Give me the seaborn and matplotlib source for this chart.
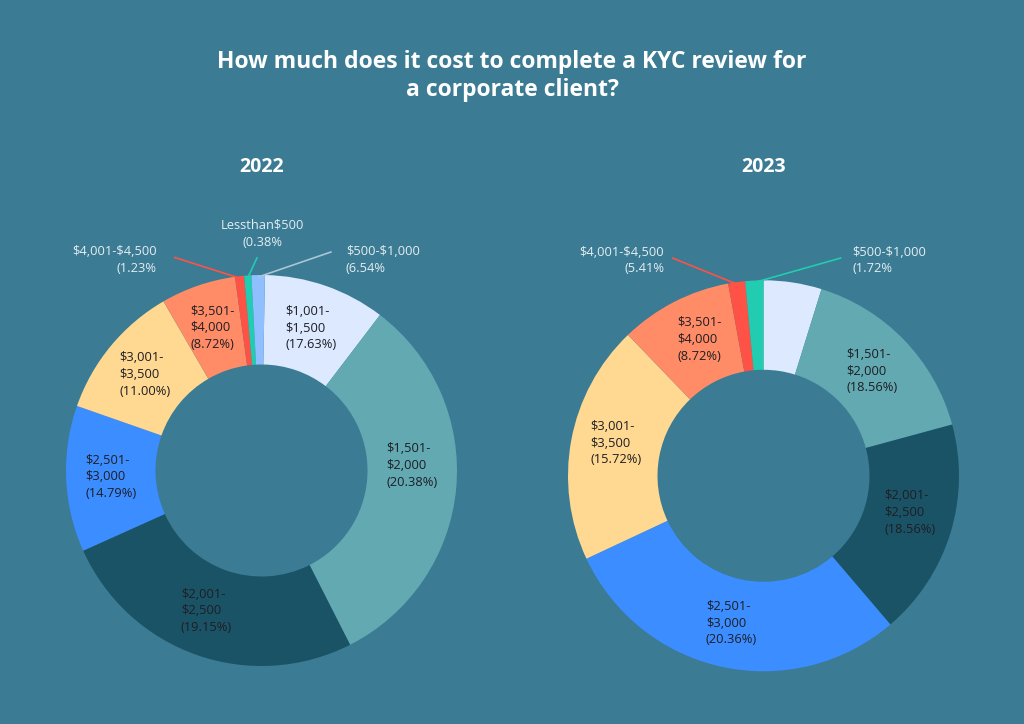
import numpy as np
import matplotlib
matplotlib.use("Agg")
import matplotlib.pyplot as plt
import seaborn as sns

# ---------------- data ----------------
# slices listed clockwise starting at 12 o'clock
ranges_2022 = ["$1,001-\n$1,500", "$1,501-\n$2,000", "$2,001-\n$2,500", "$2,501-\n$3,000",
               "$3,001-\n$3,500", "$3,501-\n$4,000", "$4,001-$4,500", "Lessthan$500", "$500-$1,000"]
pct_2022 = ["17.63%", "20.38%", "19.15%", "14.79%", "11.00%", "8.72%", "1.23%", "0.38%", "6.54%"]
sizes_2022 = [10.1, 32.2, 25.8, 12.1, 11.3, 6.2, 0.75, 0.6, 1.1]

ranges_2023 = ["", "$1,501-\n$2,000", "$2,001-\n$2,500", "$2,501-\n$3,000",
               "$3,001-\n$3,500", "$3,501-\n$4,000", "$4,001-$4,500", "$500-$1,000"]
pct_2023 = ["", "18.56%", "18.56%", "20.36%", "15.72%", "8.72%", "5.41%", "1.72%"]
sizes_2023 = [4.8, 16.0, 18.0, 29.3, 19.8, 9.3, 1.4, 1.5]

title = "How much does it cost to complete a KYC review for\na corporate client?"
years = ["2022", "2023"]

# ---------------- style ----------------
BG = "#3B7B93"
colors_2022 = ["#DCE9FF", "#62A9B2", "#1B5366", "#3C8DFF", "#FFD991", "#FF8C66",
               "#FF5246", "#22CCB0", "#8FBFFF"]
colors_2023 = ["#DCE9FF", "#62A9B2", "#1B5366", "#3C8DFF", "#FFD991", "#FF8C66",
               "#FF5246", "#22CCB0"]

sns.set_theme(style="white", rc={"figure.facecolor": BG, "axes.facecolor": BG})
plt.rcParams["font.family"] = ["Open Sans", "DejaVu Sans"]
plt.rcParams["text.parse_math"] = False

W, H = 1024, 724
fig = plt.figure(figsize=(W / 100, H / 100), dpi=100)
fig.patch.set_facecolor(BG)

R = 195.5          # outer radius in px
ring = 1 - 106 / R  # ring width as a fraction of radius
EXT = 1.35

def make_ax(cx, cy):
    half = EXT * R
    return fig.add_axes([(cx - half) / W, 1 - (cy + half) / H, 2 * half / W, 2 * half / H])

def fix_limits(ax):
    ax.set_xlim(-EXT, EXT)
    ax.set_ylim(-EXT, EXT)
    ax.set_aspect("equal")
    ax.axis("off")

INNER_TXT = "#1E1E24"
CALL_TXT = "#E4EEF2"
FS = 9.3
LS = 1.38

def donut(ax, sizes, cols, ranges, pcts, start, n_inner, callouts, nudge=None):
    nudge = nudge or {}
    wedges, _ = ax.pie(sizes, colors=cols, startangle=start, counterclock=False, radius=1,
                       wedgeprops=dict(width=ring, linewidth=0))
    fix_limits(ax)
    rmid = 1 - ring / 2
    for i, w in enumerate(wedges):
        th = np.deg2rad((w.theta1 + w.theta2) / 2 + nudge.get(i, 0))
        if i < n_inner:
            if not ranges[i]:
                continue
            ax.text(rmid * np.cos(th), rmid * np.sin(th), f"{ranges[i]}\n({pcts[i]})",
                    ha="center", va="center", multialignment="left", fontsize=FS,
                    color=INNER_TXT, linespacing=LS, parse_math=False)
    for (i, tx, ty, ha, lx, ly, lc) in callouts:
        w = wedges[i]
        th = np.deg2rad((w.theta1 + w.theta2) / 2)
        ax.plot([lx, 0.99 * np.cos(th)], [ly, 0.99 * np.sin(th)], color=lc, lw=1.2,
                clip_on=False, solid_capstyle="butt")
        ax.text(tx, ty, f"{ranges[i]}\n({pcts[i]}", ha=ha, va="center", multialignment=ha,
                fontsize=FS, color=CALL_TXT, linespacing=LS, parse_math=False)

# 2022
ax1 = make_ax(261.5, 470.5)
donut(ax1, sizes_2022, colors_2022, ranges_2022, pct_2022, 89, 6, [
    (6, -0.535, 1.077, "right", -0.448, 1.091, "#FF5246"),
    (7, 0.003, 1.211, "center", -0.0215, 1.091, "#22CCB0"),
    (8, 0.432, 1.077, "left", 0.359, 1.119, "#A9C6D8"),
], nudge={1: 7, 2: -2})

# 2023
ax2 = make_ax(763.5, 475.8)
donut(ax2, sizes_2023, colors_2023, ranges_2023, pct_2023, 90, 6, [
    (6, -0.508, 1.101, "right", -0.468, 1.115, "#FF5246"),
    (7, 0.455, 1.101, "left", 0.399, 1.115, "#22CCB0"),
], nudge={2: 3, 4: -2, 5: -2})

fig.text(0.5, 1 - 76 / H, title, ha="center", va="center", fontsize=16.5, fontweight="bold",
         color="white", linespacing=1.2)
fig.text(261.5 / W, 1 - 167 / H, years[0], ha="center", va="center", fontsize=14,
         fontweight="bold", color="white")
fig.text(763.5 / W, 1 - 167 / H, years[1], ha="center", va="center", fontsize=14,
         fontweight="bold", color="white")

fig.savefig("out.png", dpi=100, facecolor=BG)
